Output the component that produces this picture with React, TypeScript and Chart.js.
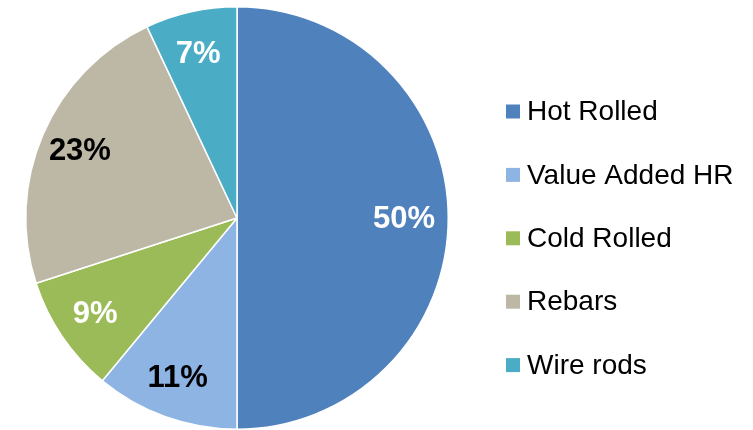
import React, { useEffect, useRef } from "react";
import { Chart, registerables } from "chart.js";

Chart.register(...registerables);

const categories = ["Hot Rolled", "Value Added HR", "Cold Rolled", "Rebars", "Wire rods"];
const shares = [50, 11, 9, 23, 7];
const sliceColors = ["#4F81BD", "#8EB4E3", "#9BBB59", "#BDB8A6", "#4BACC6"];
const labelColors = ["#FFFFFF", "#000000", "#FFFFFF", "#000000", "#FFFFFF"];

const FONT = "'Liberation Sans', Arial, sans-serif";

const labelPlugin = {
  id: "sliceLabels",
  afterDatasetsDraw(chart: any) {
    const ctx = chart.ctx;
    const meta = chart.getDatasetMeta(0);
    ctx.save();
    ctx.font = `bold 31px ${FONT}`;
    ctx.textAlign = "center";
    ctx.textBaseline = "middle";
    meta.data.forEach((arc: any, i: number) => {
      const p = arc.getProps(["x", "y", "startAngle", "endAngle", "outerRadius"], true);
      const mid = (p.startAngle + p.endAngle) / 2;
      const r = p.outerRadius * 0.8;
      ctx.fillStyle = labelColors[i];
      ctx.fillText(`${shares[i]}%`, p.x + Math.cos(mid) * r - 2, p.y + Math.sin(mid) * r + 1);
    });
    ctx.restore();
  },
};

const legendPlugin = {
  id: "sideLegend",
  afterDraw(chart: any) {
    const ctx = chart.ctx;
    const x0 = 506;
    const y0 = 111.5;
    const step = 63.4;
    ctx.save();
    ctx.font = `28px ${FONT}`;
    ctx.textAlign = "left";
    ctx.textBaseline = "middle";
    categories.forEach((name, i) => {
      const y = y0 + i * step;
      ctx.fillStyle = sliceColors[i];
      ctx.fillRect(x0, y - 7, 14, 14);
      ctx.fillStyle = "#000000";
      ctx.fillText(name, x0 + 21, y + 1);
    });
    ctx.restore();
  },
};

export default function App() {
  const ref = useRef<HTMLCanvasElement>(null);
  useEffect(() => {
    document.body.style.margin = "0";
    const chart = new Chart(ref.current!, {
      type: "pie",
      data: {
        labels: categories,
        datasets: [
          {
            data: shares,
            backgroundColor: sliceColors,
            borderColor: "#FFFFFF",
            borderWidth: 1.5,
          },
        ],
      },
      options: {
        responsive: false,
        animation: false,
        layout: { padding: { left: 25, right: 304, top: 6, bottom: 0 } },
        plugins: {
          legend: { display: false },
          tooltip: { enabled: false },
        },
      },
      plugins: [labelPlugin, legendPlugin],
    });
    return () => chart.destroy();
  }, []);
  return (
    <div style={{ width: 753, height: 430, background: "#fff" }}>
      <canvas ref={ref} width={753} height={430} style={{ display: "block" }} />
    </div>
  );
}
